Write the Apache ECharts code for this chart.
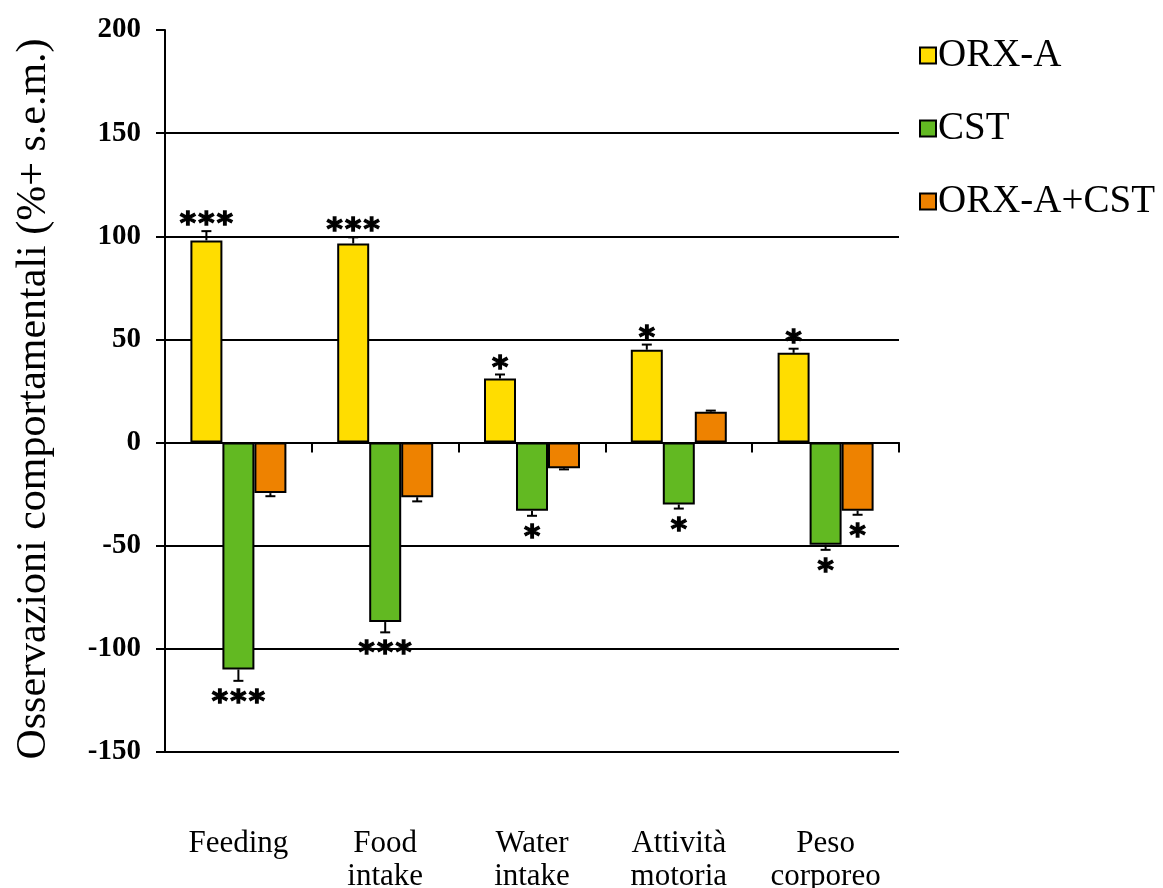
<!DOCTYPE html>
<html>
<head>
<meta charset="utf-8">
<script src="https://cdn.jsdelivr.net/npm/echarts@6/dist/echarts.min.js"></script>
<style>
  html, body { margin: 0; padding: 0; background: #fff; }
  #chart { width: 1163px; height: 888px; }
</style>
</head>
<body>
<div id="chart"></div>
<script>
// Categories on the x axis
const categories = ['Feeding', 'Food\nintake', 'Water\nintake', 'Attività\nmotoria', 'Peso\ncorporeo'];

// Mean change (%) and s.e.m. for each treatment
const orxA      = [98, 96.5, 31, 45, 43.5];
const orxAErr   = [4.5, 3, 2, 2.5, 2];
const cst       = [-110, -87, -33, -30, -49.5];
const cstErr    = [5.5, 5, 2.5, 2, 2.5];
const combo     = [-24.5, -26.5, -12.5, 15, -33];
const comboErr  = [1.5, 2, 0.5, 0.5, 2];

// Significance marks per bar
const orxASig  = ['***', '***', '*', '*', '*'];
const cstSig   = ['***', '***', '*', '*', '*'];
const comboSig = ['', '', '', '', '*'];

const seriesNames = ['ORX-A', 'CST', 'ORX-A+CST'];
const colors = ['#FFDD00', '#62B922', '#EE8200'];

const BAR_W = 32;
const SERIF = '"Liberation Serif", "Times New Roman", serif';

// Error bar rows: [category index, value, error]
function errRows(vals, errs) {
  return vals.map((v, i) => [i, v, errs[i]]);
}

// Draws a one-sided error bar with cap, plus the significance stars beyond it
function makeErrRenderer(slot, sig) {
  return function (params, api) {
    const ci = api.value(0), v = api.value(1), e = api.value(2);
    const marks = sig[params.dataIndex] || '';
    const dir = v >= 0 ? 1 : -1;
    const p0 = api.coord([ci, v]);
    const p1 = api.coord([ci, v + dir * e]);
    const x = p0[0] + slot * BAR_W;
    const children = [
      { type: 'line', shape: { x1: x, y1: p0[1], x2: x, y2: p1[1] }, style: { stroke: '#000', lineWidth: 2 } },
      { type: 'line', shape: { x1: x - 5, y1: p1[1], x2: x + 5, y2: p1[1] }, style: { stroke: '#000', lineWidth: 2 } }
    ];
    const n = marks.length;
    const ty = dir > 0 ? p1[1] - 6 : p1[1] + 22;
    for (let k = 0; k < n; k++) {
      children.push({
        type: 'text',
        style: {
          text: '*', x: x + (k - (n - 1) / 2) * 18.5, y: ty,
          align: 'center', verticalAlign: 'middle',
          font: 'bold 31px "DejaVu Sans", sans-serif', fill: '#000',
          stroke: '#000', lineWidth: 1.3
        }
      });
    }
    return { type: 'group', children };
  };
}

const chart = echarts.init(document.getElementById('chart'), null, { renderer: 'canvas' });

chart.setOption({
  backgroundColor: '#fff',
  animation: false,
  grid: { left: 165, right: 264, top: 30, bottom: 136, outerBoundsMode: 'none', containLabel: false },
  legend: {
    orient: 'vertical', left: 914, top: 31,
    itemWidth: 16, itemHeight: 16, itemGap: 34,
    icon: 'rect',
    data: seriesNames,
    textStyle: { fontFamily: SERIF, fontSize: 39, color: '#000', padding: [0, 0, 0, -3] }
  },
  xAxis: [
    {
      type: 'category', data: categories, position: 'bottom',
      axisLine: { onZero: true, lineStyle: { color: '#000', width: 2 } },
      axisTick: { show: true, inside: false, length: 10, lineStyle: { color: '#000', width: 2 } },
      axisLabel: { show: false },
      splitLine: { show: false }
    },
    {
      type: 'category', data: categories, position: 'bottom',
      axisLine: { show: false, onZero: false },
      axisTick: { show: false },
      axisLabel: {
        show: true, interval: 0, hideOverlap: false, margin: 75,
        fontFamily: SERIF, fontSize: 31, lineHeight: 33, color: '#000'
      },
      splitLine: { show: false }
    }
  ],
  yAxis: {
    type: 'value', min: -150, max: 200, interval: 50,
    name: 'Osservazioni comportamentali (%+ s.e.m.)',
    nameLocation: 'middle', nameGap: 110, nameRotate: 90,
    nameTextStyle: { fontFamily: SERIF, fontSize: 42, color: '#000', padding: [0, 16, 0, 0] },
    axisLine: { show: true, lineStyle: { color: '#000', width: 2 } },
    axisTick: { show: true, length: 9, lineStyle: { color: '#000', width: 2 } },
    axisLabel: { margin: 24, fontFamily: SERIF, fontWeight: 'bold', fontSize: 29, color: '#000' },
    splitLine: {
      show: true,
      lineStyle: { width: 2, color: ['#000', '#000', '#000', '#000', '#000', '#000', '#000', 'rgba(0,0,0,0)'] }
    }
  },
  series: [
    {
      name: seriesNames[0], type: 'bar', data: orxA, barWidth: BAR_W, barGap: '0%',
      itemStyle: { color: colors[0], borderColor: '#000', borderWidth: 2 }
    },
    {
      name: seriesNames[1], type: 'bar', data: cst, barWidth: BAR_W, barGap: '0%',
      itemStyle: { color: colors[1], borderColor: '#000', borderWidth: 2 }
    },
    {
      name: seriesNames[2], type: 'bar', data: combo, barWidth: BAR_W, barGap: '0%',
      itemStyle: { color: colors[2], borderColor: '#000', borderWidth: 2 }
    },
    { type: 'custom', renderItem: makeErrRenderer(-1, orxASig), data: errRows(orxA, orxAErr), z: 5, silent: true },
    { type: 'custom', renderItem: makeErrRenderer(0, cstSig), data: errRows(cst, cstErr), z: 5, silent: true },
    { type: 'custom', renderItem: makeErrRenderer(1, comboSig), data: errRows(combo, comboErr), z: 5, silent: true }
  ]
});
</script>
</body>
</html>
